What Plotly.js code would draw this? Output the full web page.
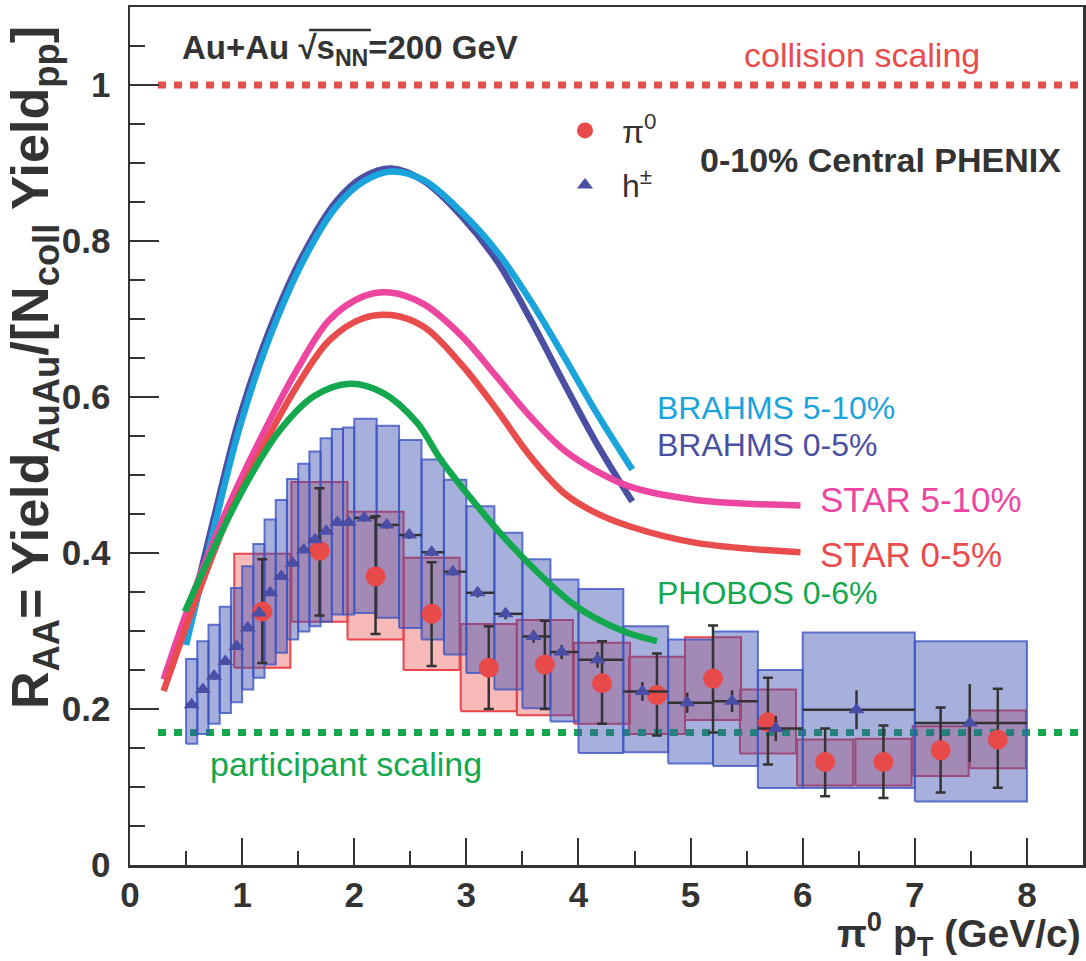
<!DOCTYPE html>
<html><head><meta charset="utf-8">
<script src="https://cdn.plot.ly/plotly-3.0.1.min.js"></script>
<style>html,body{margin:0;padding:0;background:#fff}#chart{width:1086px;height:961px}</style>
</head><body><div id="chart"></div>
<script>
// ---------- pi0 (PHENIX 0-10%) ----------
const pi0_pt    = [1.18, 1.69, 2.19, 2.69, 3.20, 3.70, 4.21, 4.70, 5.20, 5.69, 6.20, 6.72, 7.23, 7.74];
const pi0_raa   = [0.325, 0.403, 0.370, 0.322, 0.253, 0.257, 0.233, 0.218, 0.239, 0.183, 0.132, 0.132, 0.147, 0.161];
const pi0_statUp= [0.067, 0.080, 0.077, 0.066, 0.053, 0.056, 0.054, 0.053, 0.068, 0.057, 0.043, 0.047, 0.055, 0.065];
const pi0_statDn= [0.066, 0.083, 0.074, 0.067, 0.053, 0.057, 0.052, 0.052, 0.069, 0.054, 0.044, 0.046, 0.054, 0.062];
const pi0_binLo = [0.93, 1.44, 1.94, 2.44, 2.95, 3.45, 3.96, 4.45, 4.95, 5.44, 5.95, 6.47, 6.98, 7.49];
const pi0_binHi = [1.43, 1.94, 2.44, 2.94, 3.45, 3.95, 4.46, 4.95, 5.45, 5.94, 6.45, 6.97, 7.48, 7.99];
const pi0_sysLo = [0.253, 0.312, 0.289, 0.250, 0.197, 0.192, 0.181, 0.168, 0.186, 0.143, 0.102, 0.102, 0.114, 0.124];
const pi0_sysHi = [0.399, 0.491, 0.453, 0.394, 0.309, 0.314, 0.285, 0.267, 0.292, 0.225, 0.161, 0.162, 0.178, 0.198];

// ---------- h+- (PHENIX 0-10%) ----------
const h_pt    = [0.55,0.65,0.75,0.85,0.95,1.05,1.15,1.25,1.35,1.45,1.55,1.65,1.75,1.85,1.95,
                 2.09,2.29,2.49,2.69,2.88, 3.10,3.35,3.60,3.85, 4.17,4.57,4.97,5.37,5.76, 6.48,7.49];
const h_raa   = [0.2055,0.225,0.242,0.261,0.280,0.304,0.323,0.349,0.370,0.387,0.404,0.417,0.428,0.439,0.439,
                 0.445,0.436,0.423,0.401,0.376, 0.349,0.322,0.293,0.273, 0.263,0.2225,0.208,0.210,0.175, 0.199,0.182];
const h_binLo = [0.5,0.6,0.7,0.8,0.9,1.0,1.1,1.2,1.3,1.4,1.5,1.6,1.7,1.8,1.9,
                 2.0,2.2,2.4,2.6,2.8, 3.0,3.25,3.5,3.75, 4.0,4.4,4.8,5.2,5.6, 6.0,7.0];
const h_binHi = [0.6,0.7,0.8,0.9,1.0,1.1,1.2,1.3,1.4,1.5,1.6,1.7,1.8,1.9,2.0,
                 2.2,2.4,2.6,2.8,3.0, 3.25,3.5,3.75,4.0, 4.4,4.8,5.2,5.6,6.0, 7.0,8.0];
const h_stat  = [0.004,0.004,0.004,0.004,0.004,0.004,0.004,0.004,0.004,0.004,0.004,0.004,0.004,0.004,0.004,
                 0.005,0.005,0.005,0.005,0.005, 0.006,0.007,0.008,0.009, 0.010,0.012,0.013,0.014,0.016, 0.025,0.050];
const h_sysHi = [0.264,0.287,0.308,0.331,0.355,0.383,0.4115,0.443,0.468,0.495,0.5145,0.530,0.547,0.559,0.561,
                 0.572,0.563,0.545,0.520,0.494, 0.460,0.426,0.392,0.366, 0.354,0.306,0.289,0.2995,0.250, 0.298,0.287];
const h_sysLo = [0.1555,0.168,0.181,0.195,0.2085,0.225,0.240,0.257,0.272,0.289,0.2995,0.306,0.312,0.321,0.321,
                 0.323,0.317,0.304,0.289,0.270, 0.246,0.225,0.201,0.184, 0.1436,0.1444,0.130,0.127,0.0987, 0.0987,0.0815];

// ---------- model / other-experiment curves ----------
const brahms510_x = [0.50,0.74,0.98,1.25,1.55,1.84,2.08,2.33,2.62,2.95,3.27,3.57,3.87,4.16,4.48];
const brahms510_y = [0.282,0.426,0.562,0.678,0.776,0.844,0.876,0.889,0.878,0.838,0.787,0.724,0.652,0.580,0.507];
const brahms05_x  = [0.50,0.74,0.98,1.25,1.55,1.84,2.08,2.33,2.62,2.95,3.27,3.57,3.87,4.16,4.48];
const brahms05_y  = [0.298,0.440,0.575,0.688,0.784,0.851,0.882,0.893,0.877,0.833,0.775,0.700,0.618,0.541,0.466];
const star510_x   = [0.30,0.60,0.89,1.19,1.49,1.78,2.08,2.32,2.62,2.96,3.27,3.57,3.87,4.16,4.46,5.05,5.98];
const star510_y   = [0.238,0.362,0.464,0.554,0.635,0.699,0.729,0.734,0.719,0.678,0.626,0.575,0.532,0.505,0.485,0.468,0.461];
const star05_x    = [0.30,0.60,0.89,1.19,1.49,1.78,2.08,2.33,2.62,2.96,3.27,3.57,3.87,4.16,4.46,5.05,5.98];
const star05_y    = [0.223,0.345,0.451,0.537,0.614,0.673,0.701,0.705,0.690,0.641,0.584,0.524,0.477,0.451,0.434,0.413,0.401];
const phobos_x    = [0.49,0.74,1.04,1.34,1.64,1.96,2.26,2.56,2.77,3.03,3.33,3.63,3.93,4.13,4.43,4.70];
const phobos_y    = [0.325,0.404,0.490,0.558,0.601,0.617,0.605,0.567,0.520,0.472,0.421,0.376,0.337,0.318,0.298,0.287];

// ---------- reference scalings ----------
const collision_x = [0.25, 8.5], collision_y = [1.0, 1.0];
const participant_x = [0.25, 8.5], participant_y = [0.17, 0.17];

// ---------- build box polygons ----------
function boxPoly(lo, hi, ylo, yhi) {
  const xs = [], ys = [];
  for (let i = 0; i < lo.length; i++) {
    xs.push(lo[i], hi[i], hi[i], lo[i], lo[i], null);
    ys.push(ylo[i], ylo[i], yhi[i], yhi[i], ylo[i], null);
  }
  return {xs, ys};
}
const pBox = boxPoly(pi0_binLo, pi0_binHi, pi0_sysLo, pi0_sysHi);
const hBox = boxPoly(h_binLo, h_binHi, h_sysLo, h_sysHi);

const FONT = 'Liberation Sans, Arial, Helvetica, sans-serif';
const DARK = '#333333';

function curve(x, y, color) {
  return {type:'scatter', mode:'lines', x, y, line:{color, width:6.5, shape:'spline', smoothing:1},
          hoverinfo:'skip', showlegend:false};
}

const traces = [
  {type:'scatter', mode:'lines', x:pBox.xs, y:pBox.ys, fill:'toself', fillcolor:'rgba(236,70,70,0.38)',
   line:{color:'#e8464a', width:2}, hoverinfo:'skip', showlegend:false},
  {type:'scatter', mode:'lines', x:participant_x, y:participant_y,
   line:{color:'#13a84e', width:7, dash:'8px,8px'}, hoverinfo:'skip', showlegend:false},
  {type:'scatter', mode:'lines', x:hBox.xs, y:hBox.ys, fill:'toself', fillcolor:'rgba(60,80,180,0.45)',
   line:{color:'rgba(60,85,195,0.8)', width:2}, hoverinfo:'skip', showlegend:false},
  curve(brahms05_x, brahms05_y, '#4a4fa3'),
  curve(brahms510_x, brahms510_y, '#1ba3dc'),
  curve(star510_x, star510_y, '#ec46a0'),
  curve(star05_x, star05_y, '#e84c4c'),
  curve(phobos_x, phobos_y, '#13a84e'),
  {type:'scatter', mode:'lines', x:collision_x, y:collision_y,
   line:{color:'#e84c4c', width:7, dash:'8px,8px'}, hoverinfo:'skip', showlegend:false},
  {type:'scatter', mode:'markers', name:'π<sup>0</sup>', legendgroup:'a', x:pi0_pt, y:pi0_raa,
   marker:{symbol:'circle', size:20, color:'#e84a4a'},
   error_y:{type:'data', symmetric:false, array:pi0_statUp, arrayminus:pi0_statDn, color:DARK, thickness:2.5, width:5}},
  {type:'scatter', mode:'markers', name:'h<sup>±</sup>', legendgroup:'b', x:h_pt, y:h_raa,
   marker:{symbol:'triangle-up', size:14, color:'#4a4ea6'},
   error_x:{type:'data', symmetric:false, array:h_binHi.map((v,i)=>v-h_pt[i]), arrayminus:h_pt.map((v,i)=>v-h_binLo[i]),
            color:DARK, thickness:2.5, width:0},
   error_y:{type:'data', array:h_stat, color:DARK, thickness:2.5, width:0}}
];

function note(text, x, y, color, size, bold, extra) {
  return Object.assign({text, x, y, xref:'x', yref:'y', xanchor:'left', yanchor:'middle', showarrow:false,
    font:{family:FONT, size, color, weight: bold ? 'bold' : 'normal'}}, extra || {});
}

const annotations = [
  note('Au+Au √s<sub>NN</sub>=200 GeV', 0.446, 1.045, DARK, 33, true),
  note('collision scaling', 5.46, 1.039, '#e84c4c', 34, false),
  note('0-10% Central PHENIX', 5.067, 0.904, DARK, 34, true),
  note('BRAHMS 5-10%', 4.683, 0.586, '#1ba3dc', 32, false),
  note('BRAHMS 0-5%', 4.683, 0.538, '#4a4fa3', 32, false),
  note('STAR 5-10%', 6.137, 0.468, '#ec46a0', 35, false),
  note('STAR 0-5%', 6.137, 0.398, '#e84c4c', 35, false),
  note('PHOBOS 0-6%', 4.683, 0.349, '#13a84e', 32, false),
  note('participant scaling', 0.696, 0.129, '#13a84e', 34, false),
  {text:'π<sup>0</sup> p<sub>T</sub> (GeV/c)', xref:'paper', yref:'paper', x:1.0, y:-0.081, xanchor:'right', yanchor:'middle',
   showarrow:false, font:{family:FONT, size:39, color:DARK, weight:'bold'}},
  {text:'R<sub>AA</sub>= Yield<sub>AuAu</sub>/[N<sub>coll</sub> Yield<sub>pp</sub>]', xref:'paper', yref:'paper',
   x:-0.1, y:0.58, xanchor:'center', yanchor:'middle', textangle:-90,
   showarrow:false, font:{family:FONT, size:52, color:DARK, weight:'bold'}}
];

const axisCommon = {
  showline:true, linewidth:2.5, linecolor:DARK, mirror:true, showgrid:false, zeroline:false,
  ticks:'inside', tickwidth:2, tickcolor:DARK,
  tickfont:{family:FONT, size:35, color:DARK, weight:'bold'}
};

const layout = {
  width:1086, height:961,
  margin:{l:130, r:3, t:7, b:96},
  paper_bgcolor:'#ffffff', plot_bgcolor:'#ffffff',
  xaxis:Object.assign({}, axisCommon, {range:[0, 8.5], dtick:1, tick0:0, ticklen:27, ticklabelstandoff:-3,
    minor:{dtick:0.5, ticklen:14, tickwidth:2, tickcolor:DARK, ticks:'inside'}}),
  yaxis:Object.assign({}, axisCommon, {range:[0, 1.1], dtick:0.2, tick0:0, ticklen:29, ticklabelstandoff:10,
    minor:{dtick:0.05, ticklen:15, tickwidth:2, tickcolor:DARK, ticks:'inside'}}),
  showlegend:true,
  legend:{x:0.4386, y:0.888, xanchor:'left', yanchor:'top', bgcolor:'rgba(0,0,0,0)', borderwidth:0,
    itemwidth:64, font:{family:FONT, size:32, color:DARK}, tracegroupgap:10},
  shapes:[
    // radical bar of the square-root sign over s_NN
    {type:'line', xref:'paper', yref:'paper', x0:0.1878, x1:0.2529, y0:0.9732, y1:0.9732,
     line:{color:DARK, width:2.5}}
  ],
  annotations
};

Plotly.newPlot('chart', traces, layout, {displayModeBar:false, staticPlot:true});
</script></body></html>
